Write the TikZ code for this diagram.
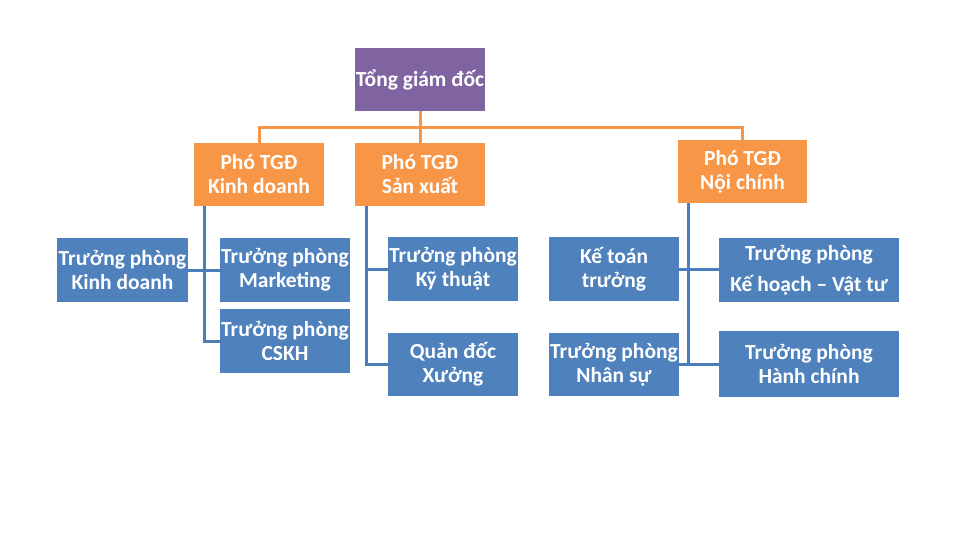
\documentclass[tikz,border=0pt]{standalone}
\usepackage{fontspec}
\setmainfont{Carlito}
\usetikzlibrary{calc,backgrounds}
\definecolor{cpurple}{HTML}{8064A2}
\definecolor{corange}{HTML}{F79646}
\definecolor{cblue}{HTML}{4F81BD}
\definecolor{cblueline}{HTML}{4A7EBB}
\tikzset{
  box/.style={inner sep=0pt, align=center, text=white, font=\bfseries\fontsize{21.5}{24}\selectfont, minimum height=63pt},
  topbox/.style={box, fill=cpurple, minimum width=130pt},
  vpbox/.style={box, fill=corange, minimum width=130pt},
  deptbox/.style={box, fill=cblue, minimum width=130pt, minimum height=64pt},
  orline/.style={draw=corange, line width=3pt},
  blline/.style={draw=cblueline, line width=3pt},
}
\begin{document}
\begin{tikzpicture}[x=1pt,y=-1pt]
\useasboundingbox (0,0) rectangle (960,554);
\coordinate (bus) at (420,127);
\node[topbox] (tgd) at (420,79.5) {Tổng giám đốc};
\node[vpbox] (pkd) at (259,174.5) {Phó TGĐ\\Kinh doanh};
\node[vpbox] (psx) at (420,174.5) {Phó TGĐ\\Sản xuất};
\node[vpbox, minimum width=129pt] (pnc) at (742.5,171.5) {Phó TGĐ\\Nội chính};
\node[deptbox, minimum width=131pt] (tpkd) at (122.5,270) {Trưởng phòng\\Kinh doanh};
\node[deptbox] (mkt) at (285,270) {Trưởng phòng\\Marketing};
\node[deptbox] (cskh) at (285,341) {Trưởng phòng\\CSKH};
\node[deptbox] (kt) at (453,269) {Trưởng phòng\\Kỹ thuật};
\node[deptbox, minimum height=63pt] (qd) at (453,364.5) {Quản đốc\\Xưởng};
\node[deptbox] (ktt) at (614,269) {Kế toán\\trưởng};
\node[deptbox, minimum height=63pt] (ns) at (614,364.5) {Trưởng phòng\\Nhân sự};
\node[deptbox, minimum width=180pt] (khvt) at (809,270) {Trưởng phòng\\[7pt]Kế hoạch – Vật tư};
\node[deptbox, minimum width=180pt, minimum height=66pt] (hc) at (809,364) {Trưởng phòng\\Hành chính};
\coordinate (kdb) at ([xshift=11pt]pkd.south west);
\coordinate (sxb) at ([xshift=12pt]psx.south west);
\coordinate (ncb) at ([xshift=11pt]pnc.south west);
\begin{scope}[on background layer]
\fill[white] (0,0) rectangle (960,554);
% orange connectors
\draw[orline] (tgd.south) -- (psx.north);
\draw[orline] (pkd.north) |- (bus) -| (pnc.north);
% blue connectors
\draw[blline] (kdb) |- (cskh.west);
\draw[blline] (tpkd.east) -- (tpkd.east -| mkt.west);
\draw[blline] (sxb) |- (qd.west);
\draw[blline] (sxb |- kt.west) -- (kt.west);
\draw[blline] (ncb) -- (ncb |- hc.west);
\draw[blline] (ktt.east) -- (ktt.east -| khvt.west);
\draw[blline] (ns.east |- hc.west) -- (hc.west);
\end{scope}
\end{tikzpicture}
\end{document}
